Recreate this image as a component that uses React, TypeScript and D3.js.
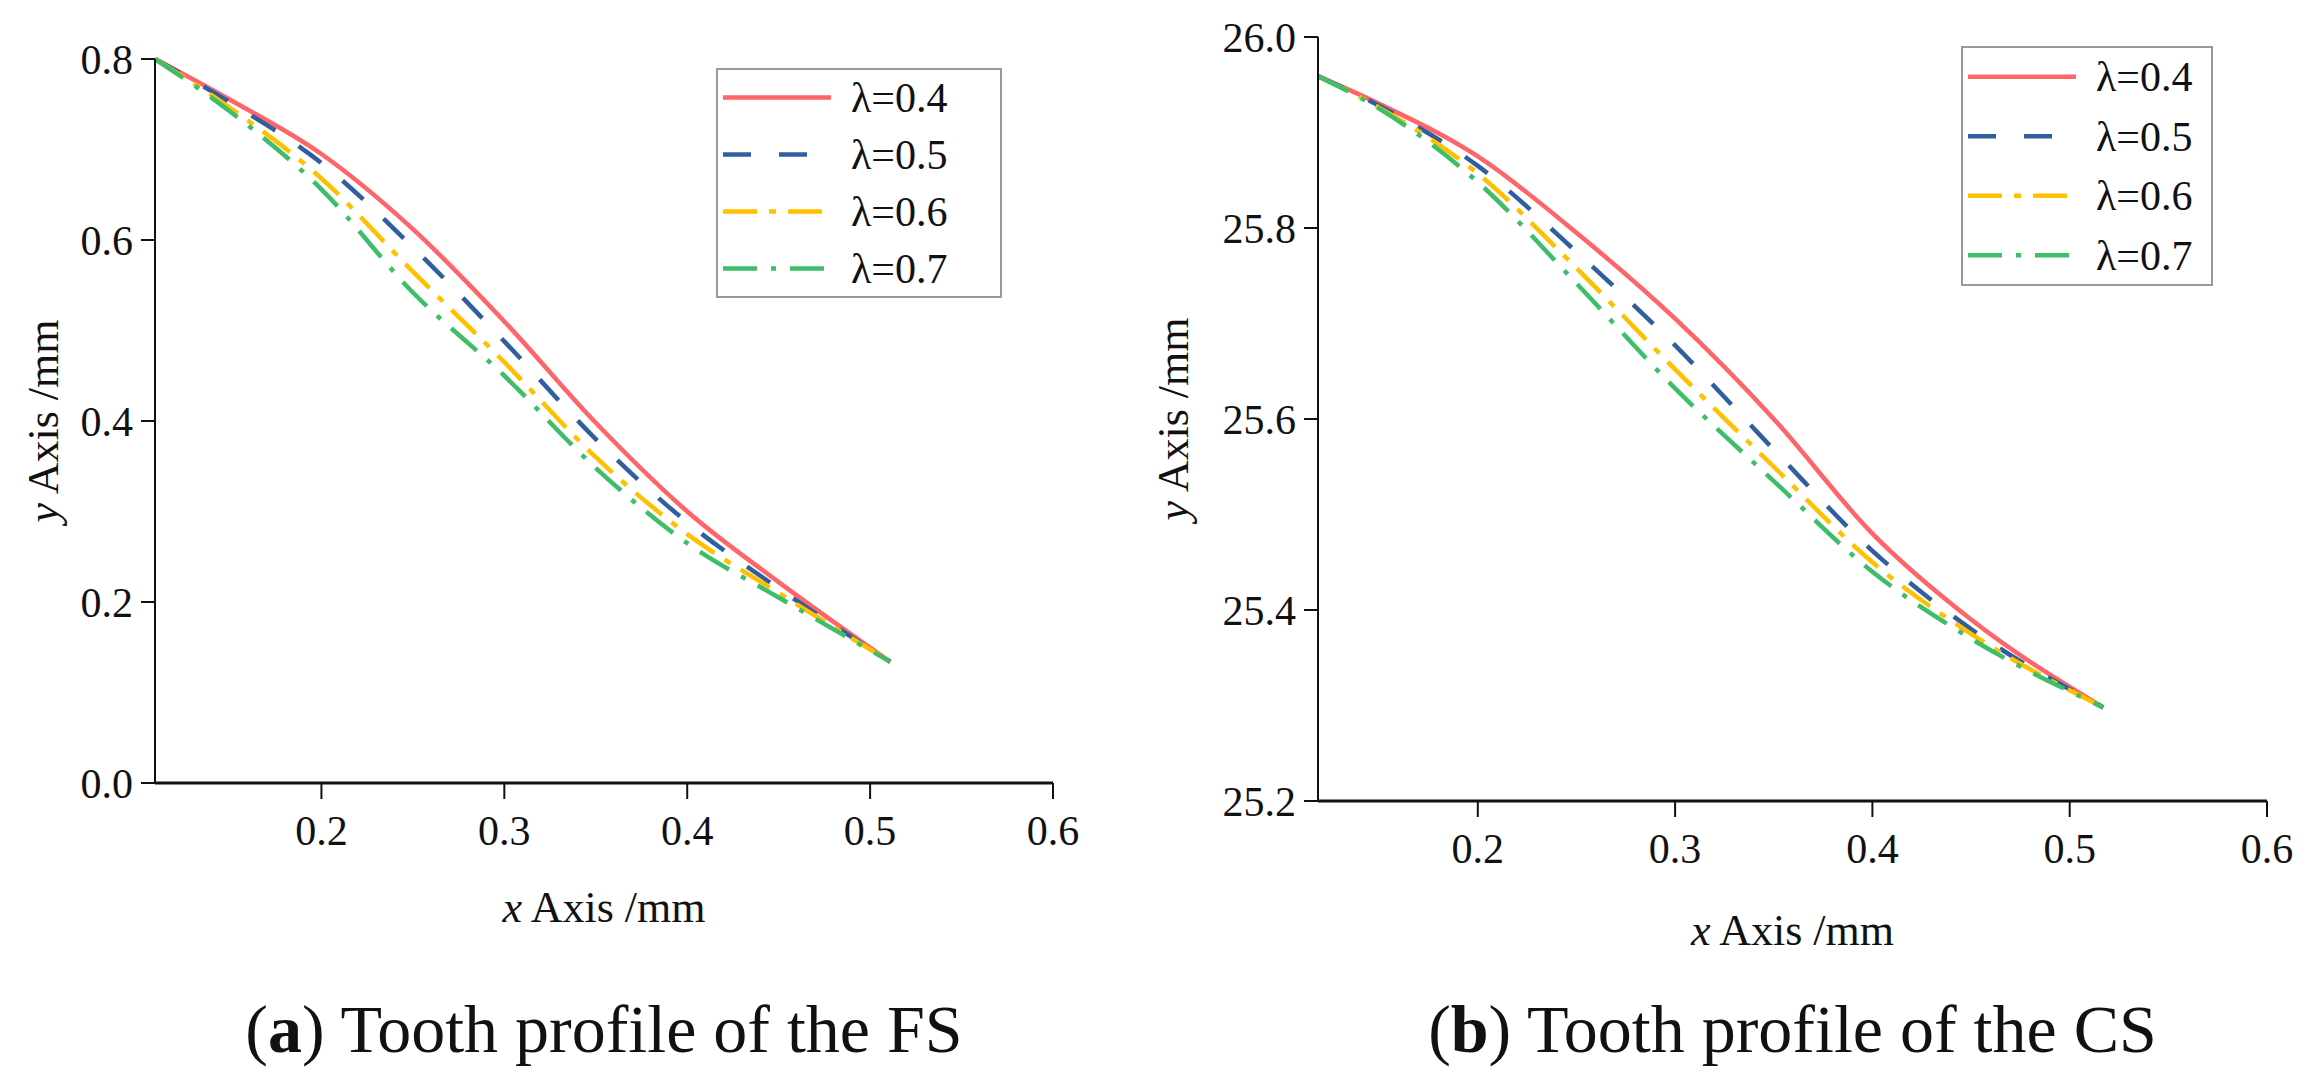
import React from 'react';
import * as d3 from 'd3';

const labels = ['λ=0.4', 'λ=0.5', 'λ=0.6', 'λ=0.7'];
const colors = ['#FF6468', '#2F5F9E', '#FFC000', '#3DBE69'];
const dashes = ['none', '28,28', '34,12,7,12', '34,14,5,14'];

// FS panel
const fsX = [0.109, 0.15, 0.2, 0.25, 0.3, 0.35, 0.4, 0.45, 0.511];
const fsY = [
  [0.8, 0.755, 0.695, 0.612, 0.51, 0.398, 0.3, 0.222, 0.134],
  [0.8, 0.752, 0.685, 0.592, 0.488, 0.38, 0.288, 0.215, 0.134],
  [0.8, 0.746, 0.668, 0.565, 0.465, 0.36, 0.275, 0.21, 0.134],
  [0.8, 0.742, 0.656, 0.542, 0.45, 0.348, 0.265, 0.205, 0.134],
];
const fsYTicks = [0, 0.2, 0.4, 0.6, 0.8];

// CS panel
const csX = [0.119, 0.15, 0.2, 0.25, 0.3, 0.35, 0.4, 0.45, 0.517];
const csY = [
  [25.959, 25.93, 25.875, 25.795, 25.705, 25.6, 25.48, 25.39, 25.298],
  [25.959, 25.928, 25.865, 25.775, 25.677, 25.568, 25.462, 25.38, 25.298],
  [25.959, 25.926, 25.857, 25.758, 25.652, 25.55, 25.45, 25.375, 25.298],
  [25.959, 25.925, 25.848, 25.742, 25.632, 25.535, 25.44, 25.37, 25.298],
];
const csYTicks = [25.2, 25.4, 25.6, 25.8, 26.0];
const xTicks = [0.2, 0.3, 0.4, 0.5, 0.6];

const font = "'Liberation Serif', 'Times New Roman', serif";

type PanelProps = {
  xs: number[];
  ys: number[][];
  xDomain: [number, number];
  yDomain: [number, number];
  yTicks: number[];
  left: number; right: number; top: number; bottom: number;
  legend: { x: number; y: number; w: number; h: number };
  yTitleX: number;
  xTitleY: number;
  caption: [string, string];
  captionY: number;
};

const Panel = (p: PanelProps) => {
  const x = d3.scaleLinear().domain(p.xDomain).range([p.left, p.right]);
  const y = d3.scaleLinear().domain(p.yDomain).range([p.bottom, p.top]);
  const line = d3
    .line<number>()
    .x((_, i) => x(p.xs[i]))
    .y(d => y(d))
    .curve(d3.curveMonotoneX);
  const cx = (p.left + p.right) / 2;
  const rowH = p.legend.h / 4;
  return (
    <g fontFamily={font} fill="#111">
      {p.ys.map((s, i) => (
        <path key={i} d={line(s) || ''} fill="none" stroke={colors[i]} strokeWidth={4.5}
          strokeDasharray={dashes[i]} />
      ))}
      <line x1={p.left} x2={p.left} y1={p.top} y2={p.bottom} stroke="#111" strokeWidth={2} />
      <line x1={p.left} x2={p.right} y1={p.bottom} y2={p.bottom} stroke="#111" strokeWidth={3} />
      {p.yTicks.map(t => (
        <g key={t}>
          <line x1={p.left - 14} x2={p.left} y1={y(t)} y2={y(t)} stroke="#111" strokeWidth={2} />
          <text x={p.left - 22} y={y(t)} dy="0.35em" textAnchor="end" fontSize={42}>{t.toFixed(1)}</text>
        </g>
      ))}
      {xTicks.map(t => (
        <g key={t}>
          <line x1={x(t)} x2={x(t)} y1={p.bottom} y2={p.bottom + 16} stroke="#111" strokeWidth={2} />
          <text x={x(t)} y={p.bottom + 62} textAnchor="middle" fontSize={42}>{t.toFixed(1)}</text>
        </g>
      ))}
      <text x={cx} y={p.xTitleY} textAnchor="middle" fontSize={44}>
        <tspan fontStyle="italic">x</tspan> Axis /mm
      </text>
      <text transform={`translate(${p.yTitleX},${(p.top + p.bottom) / 2}) rotate(-90)`}
        textAnchor="middle" fontSize={44}>
        <tspan fontStyle="italic">y</tspan> Axis /mm
      </text>
      <rect x={p.legend.x} y={p.legend.y} width={p.legend.w} height={p.legend.h}
        fill="#fff" stroke="#999" strokeWidth={2} />
      {labels.map((l, i) => {
        const ly = p.legend.y + rowH * (i + 0.5);
        return (
          <g key={l}>
            <line x1={p.legend.x + 6} x2={p.legend.x + 114} y1={ly} y2={ly} stroke={colors[i]}
              strokeWidth={4.5} strokeDasharray={dashes[i]} />
            <text x={p.legend.x + 134} y={ly} dy="0.35em" fontSize={42}>{l}</text>
          </g>
        );
      })}
      <text x={cx} y={p.captionY} textAnchor="middle" fontSize={68}>
        (<tspan fontWeight="bold">{p.caption[0]}</tspan>) {p.caption[1]}
      </text>
    </g>
  );
};

export default function App() {
  return (
    <svg width={2310} height={1084} style={{ position: 'absolute', left: 0, top: 0, background: '#fff' }}>
      <Panel xs={fsX} ys={fsY} xDomain={[0.109, 0.6]} yDomain={[0, 0.8]} yTicks={fsYTicks}
        left={155} right={1053} top={59} bottom={783}
        legend={{ x: 717, y: 69, w: 284, h: 228 }} yTitleX={58} xTitleY={922}
        caption={['a', 'Tooth profile of the FS']} captionY={1052} />
      <Panel xs={csX} ys={csY} xDomain={[0.119, 0.6]} yDomain={[25.2, 26.0]} yTicks={csYTicks}
        left={1318} right={2267} top={37} bottom={801}
        legend={{ x: 1962, y: 47, w: 250, h: 238 }} yTitleX={1188} xTitleY={945}
        caption={['b', 'Tooth profile of the CS']} captionY={1052} />
    </svg>
  );
}
